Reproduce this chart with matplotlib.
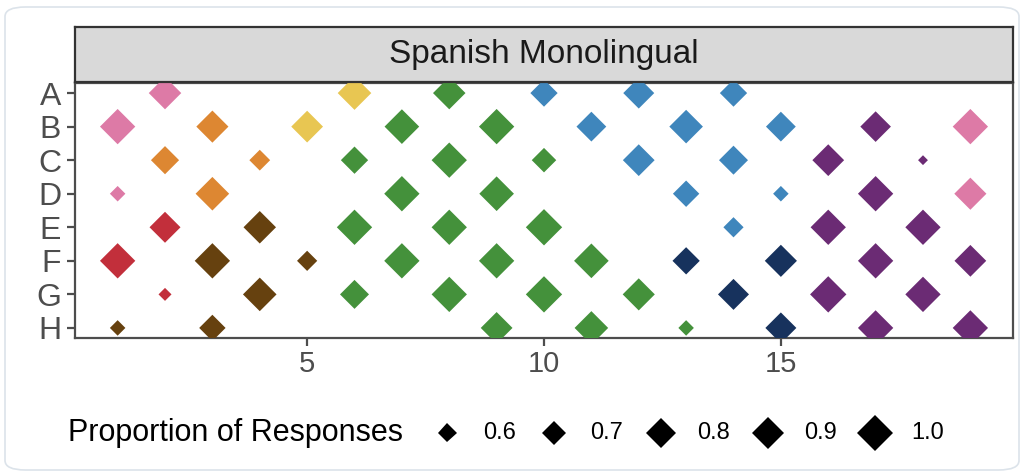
import matplotlib
matplotlib.use("Agg")
import matplotlib.pyplot as plt
from matplotlib.patches import FancyBboxPatch
from matplotlib.lines import Line2D
import numpy as np

plt.rcParams['font.family'] = ['Liberation Sans', 'DejaVu Sans']

# ---------------- data ----------------
row_labels = ["A", "B", "C", "D", "E", "F", "G", "H"]

x_A = [2, 6, 8, 10, 12, 14]
p_A = [0.89, 0.92, 0.89, 0.76, 0.85, 0.76]
g_A = ["pink", "yellow", "green", "blue", "blue", "blue"]

x_B = [1, 3, 5, 7, 9, 11, 13, 15, 17, 19]
p_B = [0.97, 0.88, 0.87, 0.95, 0.97, 0.82, 0.92, 0.82, 0.84, 0.97]
g_B = ["pink", "orange", "yellow", "green", "green", "blue", "blue", "blue", "purple", "pink"]

x_C = [2, 4, 6, 8, 10, 12, 14, 16, 18]
p_C = [0.78, 0.63, 0.76, 0.97, 0.70, 0.87, 0.80, 0.87, 0.49]
g_C = ["orange", "orange", "green", "green", "green", "blue", "blue", "purple", "purple"]

x_D = [1, 3, 7, 9, 13, 15, 17, 19]
p_D = [0.55, 0.92, 0.97, 0.95, 0.74, 0.55, 0.97, 0.88]
g_D = ["pink", "orange", "green", "green", "blue", "blue", "purple", "pink"]

x_E = [2, 4, 6, 8, 10, 14, 16, 18]
p_E = [0.85, 0.89, 0.97, 0.97, 1.00, 0.62, 0.97, 0.97]
g_E = ["red", "brown", "green", "green", "green", "blue", "purple", "purple"]

x_F = [1, 3, 5, 7, 9, 11, 13, 15, 17, 19]
p_F = [0.97, 0.97, 0.62, 0.97, 0.97, 0.95, 0.76, 0.88, 0.97, 0.87]
g_F = ["red", "brown", "brown", "green", "green", "green", "navy", "navy", "purple", "purple"]

x_G = [2, 4, 6, 8, 10, 12, 14, 16, 18]
p_G = [0.52, 0.92, 0.80, 0.97, 1.00, 0.88, 0.85, 1.00, 0.97]
g_G = ["red", "brown", "green", "green", "green", "green", "navy", "purple", "purple"]

x_H = [1, 3, 9, 11, 13, 15, 17, 19]
p_H = [0.55, 0.74, 0.87, 0.92, 0.55, 0.85, 0.97, 0.97]
g_H = ["brown", "brown", "green", "green", "green", "navy", "purple", "purple"]

rows_x = [x_A, x_B, x_C, x_D, x_E, x_F, x_G, x_H]
rows_p = [p_A, p_B, p_C, p_D, p_E, p_F, p_G, p_H]
rows_g = [g_A, g_B, g_C, g_D, g_E, g_F, g_G, g_H]

palette = {
    "pink": "#DD7AA6",
    "orange": "#DD8732",
    "yellow": "#E8C652",
    "green": "#44913B",
    "blue": "#3F86BC",
    "navy": "#17325D",
    "purple": "#6B2B74",
    "red": "#C22F3B",
    "brown": "#66410F",
}

legend_breaks = [0.6, 0.7, 0.8, 0.9, 1.0]
x_ticks = [5, 10, 15]
title = "Spanish Monolingual"
legend_title = "Proportion of Responses"


def size_of(p):
    p = np.asarray(p, dtype=float)
    diag_px = np.sqrt(np.clip(361 + 2400 * (p - 0.6), 20, None))
    ms = diag_px * 72 / (100 * np.sqrt(2))
    return ms ** 2


# ---------------- figure ----------------
W, H = 1026, 476
fig = plt.figure(figsize=(W / 100, H / 100), dpi=100)
fig.patch.set_facecolor("white")

# screenshot frame
frame = FancyBboxPatch((5 / W, 6 / H), 1014 / W, 463 / H,
                       boxstyle="round,pad=0,rounding_size=0.02",
                       transform=fig.transFigure, facecolor="none",
                       edgecolor="#DCE3EA", linewidth=1.2, zorder=-5)
fig.patches.append(frame)

pl, pr, pt, pb = 75, 1013, 83, 338
ax = fig.add_axes([pl / W, 1 - pb / H, (pr - pl) / W, (pb - pt) / H])

for i, (xs, ps, gs) in enumerate(zip(rows_x, rows_p, rows_g)):
    ax.scatter(xs, [i] * len(xs), s=size_of(ps), marker="D",
               c=[palette[g] for g in gs], linewidths=0, zorder=3)

ax.set_xlim(0.1, 19.9)
ax.set_ylim(7.3, -0.3)
ax.set_xticks(x_ticks)
ax.set_xticklabels([str(t) for t in x_ticks])
ax.set_yticks(range(len(row_labels)))
ax.set_yticklabels(row_labels)
ax.tick_params(axis="both", length=6, width=1.6, color="#4D4D4D",
               labelcolor="#4D4D4D", labelsize=21, pad=3)
ax.tick_params(axis="y", labelsize=23, pad=4)
for s in ax.spines.values():
    s.set_color("#4D4D4D")
    s.set_linewidth(1.6)

# strip
sax = fig.add_axes([pl / W, 1 - 82 / H, (pr - pl) / W, 55 / H])
sax.set_facecolor("#D9D9D9")
sax.set_xticks([])
sax.set_yticks([])
for s in sax.spines.values():
    s.set_color("#333333")
    s.set_linewidth(1.6)
sax.text(0.5, 0.5, title, ha="center", va="center", fontsize=24,
         color="#1A1A1A", transform=sax.transAxes)

# legend
ly = 1 - 433 / H
fig.text(68 / W, ly, legend_title, ha="left", va="center", fontsize=22,
         color="black")
key_x0, key_dx = 447, 107
for k, b in enumerate(legend_breaks):
    kx = (key_x0 + k * key_dx) / W
    fig.add_artist(Line2D([kx], [ly], marker="D", linestyle="none",
                          markersize=np.sqrt(size_of(b)), color="black",
                          markeredgewidth=0, transform=fig.transFigure))
    fig.text(kx + 36 / W, ly, f"{b:.1f}", ha="left", va="center",
             fontsize=17, color="black")

fig.savefig("out.png", dpi=100, facecolor="white")
